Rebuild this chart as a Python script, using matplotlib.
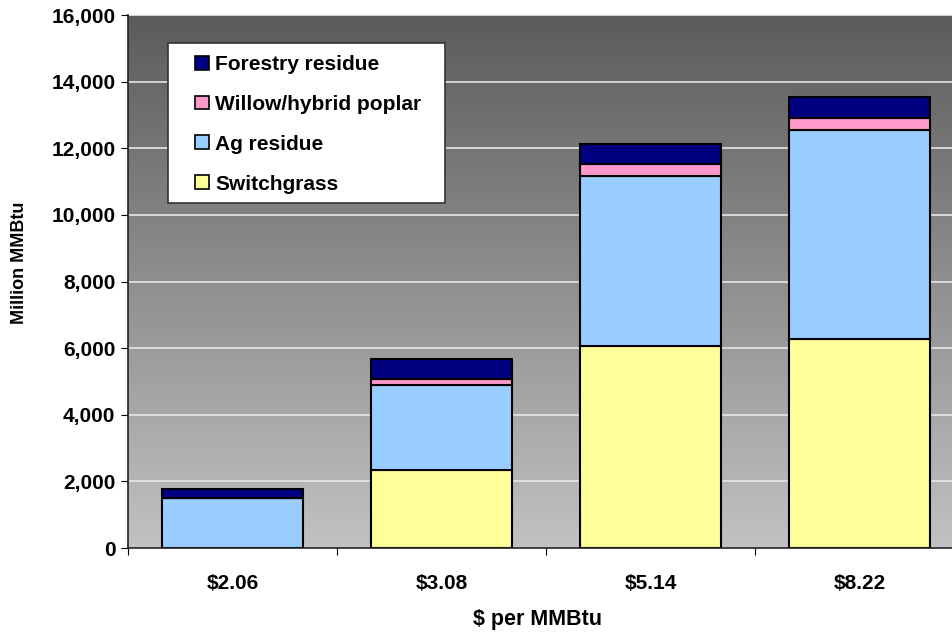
import matplotlib.pyplot as plt
import numpy as np
from matplotlib.patches import Rectangle
from matplotlib.ticker import FuncFormatter

# biomass supply by price level (million MMBtu)
prices = ['$2.06', '$3.08', '$5.14', '$8.22']
switchgrass = [0, 2350, 6050, 6280]
ag_residue = [1500, 2530, 5120, 6280]
willow = [0, 200, 360, 350]
forestry = [280, 600, 600, 640]

series = [('Switchgrass', switchgrass, '#ffff99'),
          ('Ag residue', ag_residue, '#99ccff'),
          ('Willow/hybrid poplar', willow, '#ff99cc'),
          ('Forestry residue', forestry, '#000080')]

plt.rcParams['font.family'] = 'Liberation Sans'
plt.rcParams['font.weight'] = 'bold'

W, H = 953, 635
fig = plt.figure(figsize=(W / 100, H / 100), dpi=100)
ax = fig.add_axes([128 / W, 1 - 548 / H, 836 / W, 533 / H])

# grey gradient behind the bars
grad = np.linspace(0, 1, 256).reshape(-1, 1)
top = np.array([0.36, 0.36, 0.36])
bot = np.array([0.76, 0.76, 0.76])
img = top + (bot - top) * grad[..., None]
ax.imshow(img, extent=[0, 1, 0, 1], transform=ax.transAxes, aspect='auto', zorder=0)

x = np.arange(len(prices))
bottom = np.zeros(len(prices))
handles = []
for name, vals, color in series:
    vals = np.array(vals, dtype=float)
    b = ax.bar(x, vals, 0.67, bottom=bottom, color=color, edgecolor='black',
               linewidth=1.5, label=name, zorder=3)
    handles.append(b)
    bottom += vals

ax.set_xlim(-0.5, len(prices) - 0.5)
ax.set_ylim(0, 16000)
ax.set_yticks(np.arange(0, 16001, 2000))
ax.yaxis.set_major_formatter(FuncFormatter(lambda v, p: f'{int(v):,}'))
ax.grid(axis='y', color='#e6e6e6', linewidth=1.2, zorder=1)
ax.set_axisbelow(True)

# category separators as major ticks, labels on minor ticks
ax.set_xticks(np.arange(-0.5, len(prices)), [''] * (len(prices) + 1))
ax.set_xticks(x, prices, minor=True)
ax.tick_params(axis='x', which='major', length=5, direction='out', color='black')
ax.tick_params(axis='x', which='minor', length=0, pad=19, labelsize=15)
ax.tick_params(axis='y', length=5, direction='out', pad=4, labelsize=15)

for s in ['top', 'right']:
    ax.spines[s].set_visible(False)
for s in ['left', 'bottom']:
    ax.spines[s].set_color('#222222')
    ax.spines[s].set_linewidth(1.2)
    ax.spines[s].set_zorder(4)

fig.text(20 / W, 1 - 263 / H, 'Million MMBtu', rotation=90, ha='center', va='center',
         fontsize=13, fontweight='bold')
fig.text(538 / W, 1 - 620 / H, '$ per MMBtu', ha='center', va='center',
         fontsize=15.5, fontweight='bold')

# legend box
ax.add_patch(Rectangle((168 / W, 1 - 203 / H), 277 / W, 160 / H,
                       transform=fig.transFigure, facecolor='white',
                       edgecolor='#333333', linewidth=1.2, zorder=5, clip_on=False))
leg = ax.legend(handles[::-1], [s[0] for s in series][::-1], loc='upper left',
                bbox_to_anchor=(195 / W, 1 - 55 / H), bbox_transform=fig.transFigure,
                frameon=False, fontsize=15, borderpad=0, borderaxespad=0,
                handlelength=0.68, handleheight=0.65, handletextpad=0.3,
                labelspacing=1.0)
leg.set_zorder(6)
for h in leg.legend_handles:
    h.set_edgecolor('black')
    h.set_linewidth(1.2)

fig.savefig('out.png', dpi=100)
